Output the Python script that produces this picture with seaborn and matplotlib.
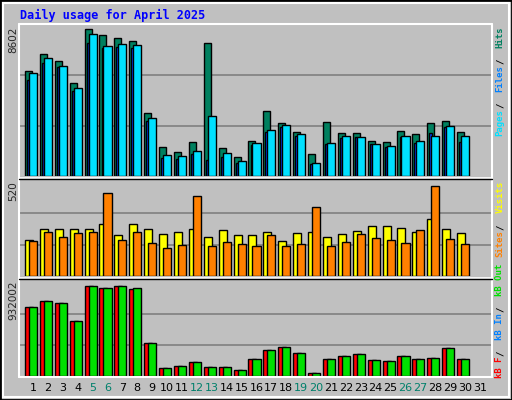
import numpy as np
import matplotlib
matplotlib.use('Agg')
import matplotlib.pyplot as plt
import seaborn as sns
from matplotlib.patches import Rectangle

days = list(range(1, 32))
weekend = [5, 6, 12, 13, 19, 20, 26, 27]

hits = [5985, 6950, 6551, 5279, 8374, 8032, 7862, 7691, 3589, 1652, 1367, 1937, 7577, 1595, 1082,
        1994, 3703, 3019, 2507, 1253, 3076, 2450, 2450, 1994, 1937, 2564, 2393, 3019, 3133, 2507]
files = [5469, 6437, 6210, 4842, 7577, 7292, 7349, 7292, 3133, 1025, 968, 1253, 911, 1082, 741,
         1766, 2507, 2791, 2279, 684, 1823, 2165, 2222, 1823, 1652, 2222, 1880, 2450, 2791, 1937]
pages = [5868, 6722, 6266, 5013, 8089, 7406, 7520, 7463, 3304, 1196, 1139, 1424, 3418, 1310, 855,
         1880, 2621, 2905, 2393, 741, 1880, 2279, 2222, 1823, 1709, 2279, 1994, 2279, 2848, 2279]
visits = [200, 260, 260, 260, 260, 287, 228, 287, 260, 233, 244, 260, 217, 255, 228,
          228, 244, 195, 238, 244, 217, 233, 249, 276, 276, 265, 244, 314, 260, 238]
sites = [195, 244, 217, 238, 244, 460, 200, 244, 184, 157, 173, 444, 168, 190, 179,
         168, 228, 163, 179, 379, 168, 190, 233, 211, 200, 184, 255, 498, 206, 179]
kb_out = [691000, 750000, 730000, 552000, 902000, 879000, 902000, 879000, 334000, 76000, 96000,
          135000, 86000, 86000, 56000, 165000, 264000, 294000, 225000, 26000, 165000, 195000,
          215000, 155000, 145000, 195000, 165000, 175000, 284000, 165000]
kb_f = [691000, 750000, 730000, 552000, 902000, 879000, 902000, 870000, 334000, 76000, 96000,
        135000, 86000, 86000, 56000, 165000, 264000, 294000, 225000, 26000, 165000, 195000,
        215000, 155000, 145000, 195000, 165000, 175000, 284000, 165000]

max_hits = 8602
max_visits = 520
max_kb = 932002

sns.set_style('white')
plt.rcParams['font.family'] = ['DejaVu Sans Mono', 'DejaVu Sans']

W, H = 512, 400
fig = plt.figure(figsize=(W / 100, H / 100), dpi=100, facecolor='#C0C0C0')

# bevelled outer border
fig.patches.append(Rectangle((0, 0), 1, 1, transform=fig.transFigure, fill=False,
                             edgecolor='black', lw=2))
fig.patches.append(Rectangle((3 / W, 3 / H), 1 - 6 / W, 1 - 6 / H, transform=fig.transFigure,
                             fill=False, edgecolor='white', lw=1.5))


def make_ax(top, bottom):
    ax = fig.add_axes([20 / W, 1 - bottom / H, 471 / W, (bottom - top) / H])
    ax.set_facecolor('#C0C0C0')
    ax.set_xlim(0.128, 31.74)
    for s in ax.spines.values():
        s.set_visible(False)
    ax.set_xticks([])
    ax.set_yticks([])
    return ax


n = len(hits)
x = np.arange(1, n + 1)

# top panel
ax1 = make_ax(25, 176)
ax1.set_ylim(0, max_hits * 1.0)
for g in (1 / 3, 2 / 3):
    ax1.axhline(max_hits * g, color='#808080', lw=1.2, zorder=0)
ax1.bar(x - 0.54, hits, width=0.47, align='edge', color='#00805F', edgecolor='black', lw=1, zorder=2)
ax1.bar(x - 0.40, files, width=0.16, align='edge', color='#0040FF', edgecolor='black', lw=1, zorder=3)
ax1.bar(x - 0.27, pages, width=0.54, align='edge', color='#00E0FF', edgecolor='black', lw=1, zorder=4)

# middle panel
ax2 = make_ax(180, 276)
ax2.set_ylim(0, max_visits * 1.02)
for g in (1 / 3, 2 / 3):
    ax2.axhline(max_visits * g, color='#808080', lw=1.2, zorder=0)
ax2.bar(x - 0.54, visits, width=0.54, align='edge', color='#FFFF00', edgecolor='black', lw=1, zorder=2)
ax2.bar(x - 0.27, sites, width=0.54, align='edge', color='#FF8000', edgecolor='black', lw=1, zorder=3)

# bottom panel
ax3 = make_ax(280, 376)
ax3.set_ylim(0, max_kb * 1.03)
for g in (1 / 3, 2 / 3):
    ax3.axhline(max_kb * g, color='#808080', lw=1.2, zorder=0)
ax3.bar(x - 0.54, kb_f, width=0.54, align='edge', color='#FF0000', edgecolor='black', lw=1, zorder=2)
ax3.bar(x - 0.27, kb_out, width=0.54, align='edge', color='#00E000', edgecolor='black', lw=1, zorder=3)

# plot frame: white lines around, black separators
for yy in (24, 377):
    fig.add_artist(plt.Line2D([19 / W, 492 / W], [1 - yy / H] * 2, color='white', lw=1.5))
for xx in (19, 492):
    fig.add_artist(plt.Line2D([xx / W] * 2, [1 - 24 / H, 1 - 377 / H], color='white', lw=1.5))
for yy in (177.5, 278):
    fig.add_artist(plt.Line2D([19 / W, 492 / W], [1 - yy / H] * 2, color='white', lw=1.2))
    fig.add_artist(plt.Line2D([19 / W, 492 / W], [1 - (yy + 1) / H] * 2, color='black', lw=1))

# day labels
for d in days:
    ax3.text(d, -0.12, str(d), transform=ax3.get_xaxis_transform(), ha='center', va='center',
             fontsize=8, color='#00806B' if d in weekend else 'black',
             family=['DejaVu Sans', 'sans-serif'])

# title
fig.text(20 / W, 1 - 15 / H, 'Daily usage for April 2025', color='#0000FF', fontsize=8.5,
         fontweight='bold', va='center', ha='left')

# max labels on left
for txt, ytop in (('8602', 27), ('520', 181), ('932002', 281)):
    fig.text(13 / W, 1 - ytop / H, txt, rotation=90, ha='center', va='top', fontsize=7.5,
             family=['DejaVu Sans', 'sans-serif'])


def side_label(pieces, y_bottom):
    y = y_bottom
    for txt, col in pieces:
        fig.text(500 / W, 1 - y / H, txt.strip(), rotation=90, ha='center', va='bottom', color=col,
                 fontsize=6.5, fontweight='bold')
        y -= len(txt) * 5.5


side_label([('Pages', '#00E0FF'), (' / ', '#000000'), ('Files', '#0080FF'),
            (' / ', '#000000'), ('Hits', '#00805F')], 136)
side_label([('Sites', '#FF8000'), (' / ', '#000000'), ('Visits', '#FFFF00')], 257)
side_label([('kB F', '#FF0000'), (' / ', '#000000'), ('kB In', '#0080FF'),
            (' / ', '#000000'), ('kB Out', '#00E000')], 378)

fig.savefig('out.png', dpi=100, facecolor=fig.get_facecolor())
